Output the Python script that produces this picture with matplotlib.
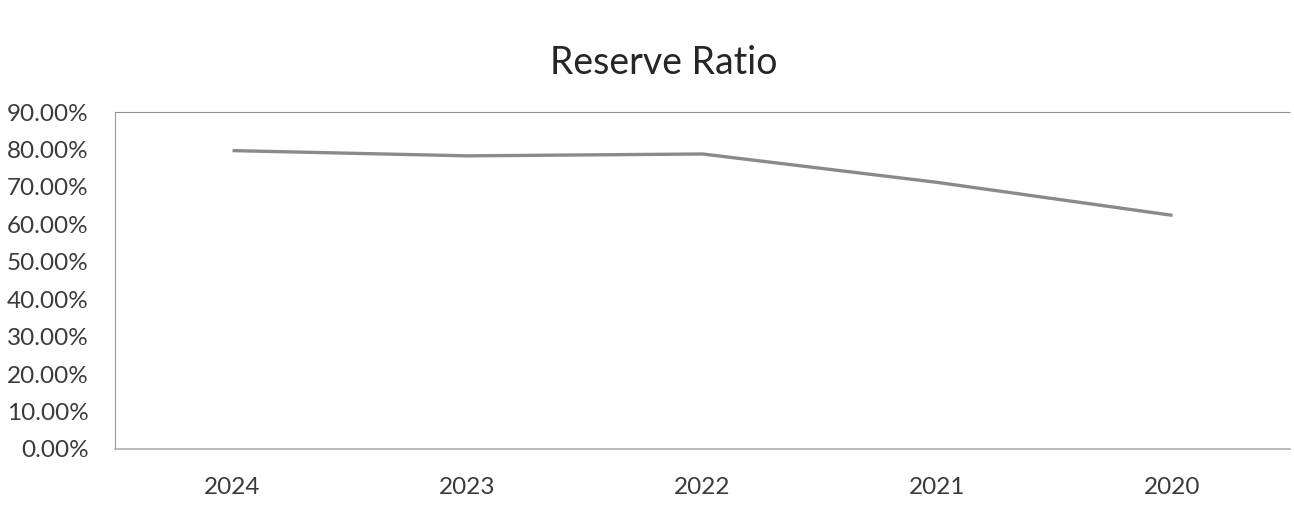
import matplotlib.pyplot as plt
from matplotlib.ticker import MultipleLocator, FuncFormatter

# data
years = ['2024', '2023', '2022', '2021', '2020']
reserve_ratio = [79.7, 78.3, 78.8, 71.2, 62.4]

plt.rcParams['font.family'] = ['Lato', 'DejaVu Sans']

fig = plt.figure(figsize=(12.94, 5.14), dpi=100)
ax = fig.add_axes([0.0889, 0.1265, 0.9081, 0.6555])

x = list(range(len(years)))
ax.plot(x, reserve_ratio, color='#8a8a8a', linewidth=2.4, solid_capstyle='butt')

ax.set_xlim(-0.5, len(years) - 0.5)
ax.set_ylim(0, 90)
ax.yaxis.set_major_locator(MultipleLocator(10))
ax.yaxis.set_major_formatter(FuncFormatter(lambda v, p: '%.2f%%' % v))
ax.set_xticks(x)
ax.set_xticklabels(years)
ax.tick_params(axis='both', length=0, labelsize=17.5, colors='#3a3a3a')
ax.tick_params(axis='x', pad=20)
ax.tick_params(axis='y', pad=19)

ax.spines['right'].set_visible(False)
ax.spines['top'].set_color('#8f8f8f')
ax.spines['top'].set_linestyle((0, (1, 1)))
ax.spines['left'].set_color('#9a9a9a')
ax.spines['left'].set_linestyle((0, (1, 1)))
ax.spines['bottom'].set_color('#b0b0b0')
ax.spines['bottom'].set_linewidth(1.2)

fig.text(664 / 1294, 1 - 63 / 514, 'Reserve Ratio', ha='center', va='center',
         fontsize=27, color='#262626')

plt.savefig('out.png', dpi=100)
